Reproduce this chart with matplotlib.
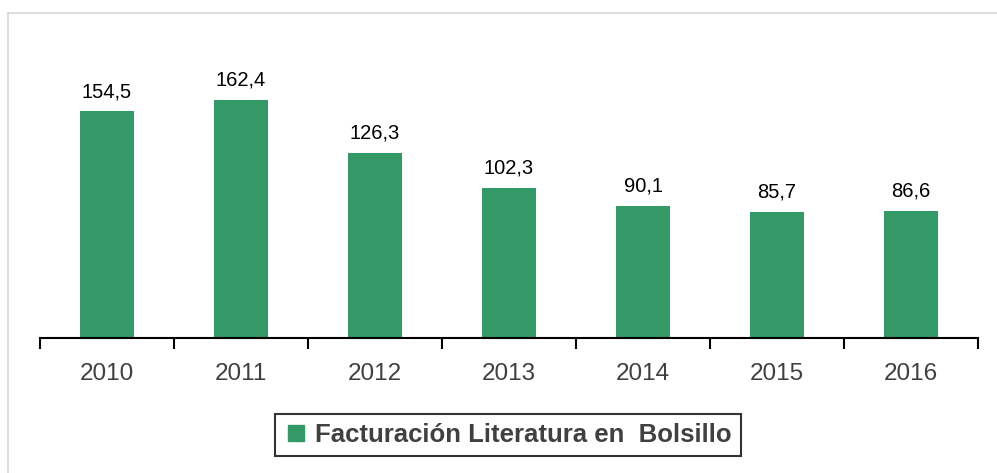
import matplotlib.pyplot as plt
from matplotlib.lines import Line2D
import numpy as np

years = ['2010', '2011', '2012', '2013', '2014', '2015', '2016']
facturacion = [154.5, 162.4, 126.3, 102.3, 90.1, 85.7, 86.6]
value_labels = ['154,5', '162,4', '126,3', '102,3', '90,1', '85,7', '86,6']
serie = 'Facturación Literatura en  Bolsillo'

green = '#339966'
plt.rcParams['font.family'] = ['Liberation Sans', 'DejaVu Sans']

fig = plt.figure(figsize=(9.97, 4.73), dpi=100)
ax = fig.add_axes([40 / 997, 1 - 338 / 473, 938 / 997, 313 / 473])

x = np.arange(len(years))
bars = ax.bar(x, facturacion, width=0.4, color=green, zorder=2)
ax.bar_label(bars, labels=value_labels, padding=7.5, fontsize=14.5, color='black')

ax.set_xlim(-0.5, len(years) - 0.5)
ax.set_ylim(0, 213.5)

# category labels centered, tick marks on category boundaries
ax.set_xticks(x)
ax.set_xticklabels(years, fontsize=17.5, color='#404040')
ax.tick_params(axis='x', which='major', length=0, pad=18)
ax.set_xticks(np.arange(-0.5, len(years)), minor=True)
ax.tick_params(axis='x', which='minor', length=8, width=1.5, direction='out', color='black')
ax.set_yticks([])

for s in ['top', 'right', 'left']:
    ax.spines[s].set_visible(False)
ax.spines['bottom'].set_linewidth(1.5)
ax.spines['bottom'].set_color('black')

# legend
handle = Line2D([], [], marker='s', linestyle='none', markersize=11,
                markerfacecolor=green, markeredgecolor=green)
leg = fig.legend([handle], [serie], loc='center', bbox_to_anchor=(508 / 997, 1 - 435 / 473),
                 fancybox=False, edgecolor='black', handletextpad=0.3, handlelength=0.9,
                 borderpad=0.35, borderaxespad=0, prop={'size': 18.5, 'weight': 'bold'})
leg.get_frame().set_linewidth(1.5)
for t in leg.get_texts():
    t.set_color('#404040')

# outer chart border (top and left only visible)
fig.add_artist(Line2D([8 / 997, 8 / 997], [0, 1 - 13 / 473], color='#d9d9d9', lw=1.2))
fig.add_artist(Line2D([8 / 997, 1], [1 - 13 / 473, 1 - 13 / 473], color='#d9d9d9', lw=1.2))

fig.savefig('out.png', dpi=100)
